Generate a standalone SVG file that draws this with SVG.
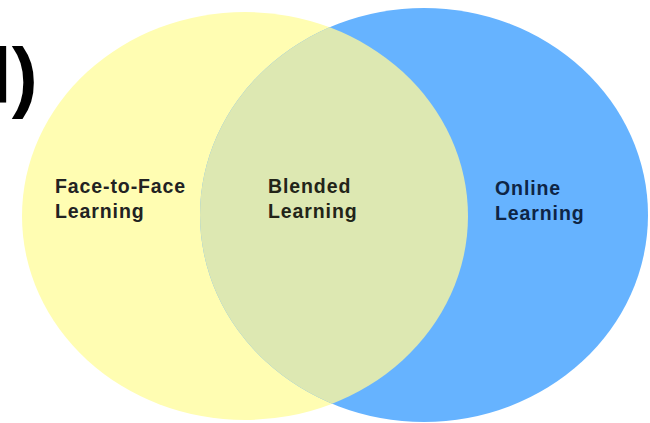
<svg xmlns="http://www.w3.org/2000/svg" width="650" height="423" viewBox="0 0 650 423">
<style>
.lbl{font-family:"Liberation Sans",Arial,sans-serif;font-weight:bold;font-size:19.5px;letter-spacing:0.9px}
</style>
<defs>
<clipPath id="blueClip"><ellipse cx="424" cy="215" rx="224" ry="207"/></clipPath>
</defs>
<rect width="650" height="423" fill="#ffffff"/>
<g id="title">
<text x="-10" y="103" font-family="Liberation Sans,Arial,sans-serif" font-weight="bold" font-size="78" fill="#000">l)</text>
</g>
<g id="face-to-face">
<ellipse cx="245" cy="216" rx="223" ry="204" fill="#FFFDB2"/>
</g>
<g id="online">
<ellipse cx="424" cy="215" rx="224" ry="207" fill="#66B3FF"/>
</g>
<g id="blended">
<ellipse cx="245" cy="216" rx="223" ry="204" fill="#DDE8B2" clip-path="url(#blueClip)"/>
</g>
<g id="labels">
<text class="lbl" x="55" y="193" fill="#222222">Face-to-Face</text>
<text class="lbl" x="55" y="218" fill="#222222">Learning</text>
<text class="lbl" x="268" y="193" fill="#222418">Blended</text>
<text class="lbl" x="268" y="218" fill="#222418">Learning</text>
<text class="lbl" x="495" y="195" fill="#0E2545">Online</text>
<text class="lbl" x="495" y="220" fill="#0E2545">Learning</text>
</g>
<g id="connectors"/>
</svg>
